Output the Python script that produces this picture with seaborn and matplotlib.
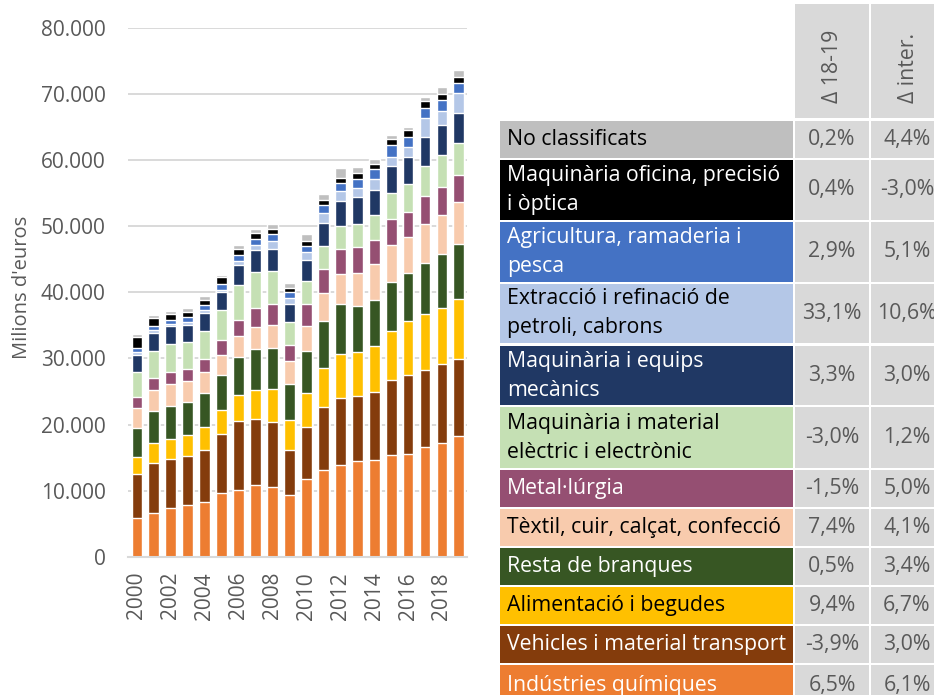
import numpy as np
import pandas as pd
import matplotlib
matplotlib.use("Agg")
import matplotlib.pyplot as plt
from matplotlib.patches import Rectangle
from matplotlib.ticker import FuncFormatter
import seaborn as sns

# ---------------- data (milions d'euros) ----------------
years = list(range(2000, 2020))

# stacking order: bottom -> top
quimiques = [5890, 6650, 7300, 7750, 8210, 9670, 10070, 10830, 10570, 9320,
             11830, 13140, 13950, 14500, 14700, 15360, 15510, 16670, 17170, 18280]
vehicles = [6550, 7550, 7450, 7460, 7950, 8910, 10470, 10020, 9820, 6840,
            7760, 9520, 10120, 9770, 10220, 11330, 12030, 11530, 12030, 11580]
alimentacio = [2670, 3020, 3020, 3220, 3480, 3680, 3980, 4330, 5040, 4590,
               5180, 5840, 6650, 6750, 6900, 7400, 8060, 8510, 8360, 9110]
resta = [4380, 4830, 4990, 4930, 5180, 5280, 5640, 6240, 6140, 5330,
         6350, 7100, 7550, 6950, 6950, 7450, 7350, 7800, 8310, 8310]
textil = [3020, 3130, 3370, 3230, 3080, 3020, 3170, 3320, 3430, 3480,
          3820, 4280, 4580, 5030, 5590, 5690, 5490, 5840, 5840, 6350]
metal = [1660, 1860, 1820, 1810, 2010, 2170, 2470, 2870, 3170, 2510,
         3280, 3670, 3780, 3880, 3630, 3830, 3780, 4180, 4280, 4170]
electric = [3730, 4130, 4220, 4030, 4230, 4530, 5340, 5440, 5080, 3380,
            3570, 3430, 3370, 3470, 3720, 3980, 4120, 4530, 4840, 4740]
mecanics = [2560, 2670, 2670, 2620, 2670, 2720, 3020, 3420, 3330, 2770,
            3120, 3470, 3780, 4080, 3830, 4020, 4180, 4380, 4430, 4580]
petroli = [460, 400, 310, 400, 500, 450, 650, 760, 1150, 900,
           1160, 1610, 1560, 1360, 1660, 1460, 1410, 2870, 2210, 3020]
agricultura = [600, 700, 700, 750, 710, 860, 910, 910, 1060, 910,
               1010, 1110, 1160, 1410, 1410, 1720, 1610, 1510, 1610, 1560]
oficina = [1710, 1160, 810, 810, 850, 1010, 810, 800, 760, 600,
           700, 860, 850, 810, 860, 1000, 1010, 1060, 960, 910]
no_classificats = [510, 510, 500, 550, 510, 250, 600, 660, 800, 760,
                   1010, 850, 1460, 900, 750, 560, 510, 610, 1060, 1110]

series = [quimiques, vehicles, alimentacio, resta, textil, metal,
          electric, mecanics, petroli, agricultura, oficina, no_classificats]

categories = ["Indústries químiques", "Vehicles i material transport",
              "Alimentació i begudes", "Resta de branques",
              "Tèxtil, cuir, calçat, confecció", "Metal·lúrgia",
              "Maquinària i material\nelèctric i electrònic",
              "Maquinària i equips\nmecànics",
              "Extracció i refinació de\npetroli, cabrons",
              "Agricultura, ramaderia i\npesca",
              "Maquinària oficina, precisió\ni òptica",
              "No classificats"]
colors = ["#ED7D31", "#843C0C", "#FFC000", "#375623", "#F8CBAD", "#954F72",
          "#C5E0B4", "#203864", "#B4C7E7", "#4472C4", "#000000", "#BFBFBF"]
text_colors = ["white", "white", "black", "white", "black", "white",
               "black", "white", "black", "white", "white", "black"]
delta_18_19 = ["6,5%", "-3,9%", "9,4%", "0,5%", "7,4%", "-1,5%",
               "-3,0%", "3,3%", "33,1%", "2,9%", "0,4%", "0,2%"]
delta_inter = ["6,1%", "3,0%", "6,7%", "3,4%", "4,1%", "5,0%",
               "1,2%", "3,0%", "10,6%", "5,1%", "-3,0%", "4,4%"]

# ---------------- build long table ----------------
rows = []
for ci, (cat, vals) in enumerate(zip(categories, series)):
    for y, v in zip(years, vals):
        rows.append({"year": str(y), "cat": cat, "ci": ci, "value": v})
df = pd.DataFrame(rows)
df["cum"] = df.sort_values("ci").groupby("year")["value"].cumsum()

# ---------------- figure ----------------
sns.set_style("white")
plt.rcParams["font.family"] = ["Open Sans", "DejaVu Sans"]
W, H = 934, 695
fig = plt.figure(figsize=(W / 100, H / 100), dpi=100)

ax = fig.add_axes([128 / W, (H - 556.7) / H, (467 - 128) / W, (556.7 - 28) / H])
order = [str(y) for y in years]
for ci in reversed(range(len(categories))):
    sub = df[df["ci"] == ci]
    sns.barplot(data=sub, x="year", y="cum", order=order, color=colors[ci],
                saturation=1, width=0.64, errorbar=None, ax=ax, zorder=3)

ax.set_ylim(0, 80000)
ax.set_xlim(-0.53, 19.48)
ax.set_yticks(np.arange(0, 80001, 10000))
ax.yaxis.set_major_formatter(FuncFormatter(lambda v, p: f"{int(v):,}".replace(",", ".")))
ax.grid(axis="y", color="#D9D9D9", lw=1.4, zorder=0)
ax.set_axisbelow(True)
for s in ["left", "right", "top"]:
    ax.spines[s].set_visible(False)
ax.spines["bottom"].set_color("#D9D9D9")
ax.spines["bottom"].set_linewidth(1.5)
ax.spines["bottom"].set_zorder(5)

ax.set_xticks(range(len(years)))
ax.set_xticklabels([str(y) if y % 2 == 0 else "" for y in years], rotation=90)
ax.tick_params(axis="x", length=4, width=1.2, color="#D9D9D9", pad=7,
               labelsize=15, labelcolor="#595959")
ax.tick_params(axis="y", length=0, pad=16, labelsize=15, labelcolor="#595959")
ax.set_xlabel("")
ax.set_ylabel("Milions d'euros", fontsize=14.5, color="#595959")
ax.yaxis.set_label_coords(-0.283, 0.51)

# ---------------- table (legend) ----------------
tab = fig.add_axes([0, 0, 1, 1])
tab.set_xlim(0, W)
tab.set_ylim(H, 0)
tab.axis("off")

cell_gray = "#D9D9D9"
val_color = "#595959"
fs = 15.3
c1 = (795, 869)
c2 = (871, 945)
# header
tab.add_patch(Rectangle((c1[0], 4), c1[1] - c1[0], 114, color=cell_gray, lw=0))
tab.add_patch(Rectangle((c2[0], 4), c2[1] - c2[0], 114, color=cell_gray, lw=0))
tab.text(832, 103, "Δ 18-19", rotation=90, ha="center", va="bottom",
         fontsize=fs, color=val_color)
tab.text(908, 103, "Δ inter.", rotation=90, ha="center", va="bottom",
         fontsize=fs, color=val_color)

row_bounds = [(665, 705), (626, 663), (587, 624), (548, 585), (509, 546),
              (470, 507), (407, 468), (346, 405), (284, 343), (222, 282),
              (160, 220), (121, 158)]
for i, (top, bot) in enumerate(row_bounds):
    h = bot - top
    yc = (top + bot) / 2
    if i == 0:
        yc = 686
    tab.add_patch(Rectangle((500, top), 293, h, color=colors[i], lw=0))
    tab.add_patch(Rectangle((c1[0], top), c1[1] - c1[0], h, color=cell_gray, lw=0))
    tab.add_patch(Rectangle((c2[0], top), c2[1] - c2[0], h, color=cell_gray, lw=0))
    tab.text(507, yc, categories[i], ha="left", va="center", fontsize=fs,
             color=text_colors[i], linespacing=1.5)
    tab.text(832, yc, delta_18_19[i], ha="center", va="center", fontsize=fs,
             color=val_color)
    tab.text(907, yc, delta_inter[i], ha="center", va="center", fontsize=fs,
             color=val_color)

fig.savefig("out.png", dpi=100)
